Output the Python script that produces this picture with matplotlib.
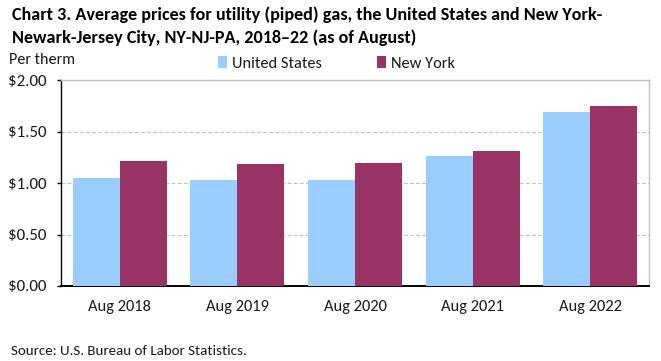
import matplotlib
matplotlib.use("Agg")
import matplotlib.pyplot as plt
import numpy as np

categories = ["Aug 2018", "Aug 2019", "Aug 2020", "Aug 2021", "Aug 2022"]
us_values = [1.05, 1.03, 1.03, 1.265, 1.695]
ny_values = [1.215, 1.187, 1.196, 1.313, 1.751]
yticks = [0.0, 0.5, 1.0, 1.5, 2.0]
ytick_labels = ["$0.00", "$0.50", "$1.00", "$1.50", "$2.00"]
series_names = ["United States", "New York"]
title_lines = ["Chart 3. Average prices for utility (piped) gas, the United States and New York-",
               "Newark-Jersey City, NY-NJ-PA, 2018\u201322 (as of August)"]
y_unit = "Per therm"
source = "Source: U.S. Bureau of Labor Statistics."

US_COLOR = "#99CCFF"
NY_COLOR = "#993366"
TEXT = "#1a1a1a"

plt.rcParams["font.family"] = ["Carlito", "DejaVu Sans"]

W, H = 661, 361
fig = plt.figure(figsize=(W / 100, H / 100), dpi=100)
renderer = fig.canvas.get_renderer()


def fit(t, target_px):
    """Scale a text's font size so its rendered width matches target_px."""
    for _ in range(2):
        w = t.get_window_extent(renderer).width
        t.set_fontsize(t.get_fontsize() * target_px / w)


def fy(px):
    return 1 - px / H


ax = fig.add_axes([61 / W, fy(286), (649 - 61) / W, (286 - 80.3) / H])

x = np.arange(len(categories))
bw = 0.4
ax.bar(x - bw / 2, us_values, bw, color=US_COLOR, label=series_names[0], zorder=3)
ax.bar(x + bw / 2, ny_values, bw, color=NY_COLOR, label=series_names[1], zorder=3)

ax.set_xlim(-0.5, len(categories) - 0.5)
ax.set_ylim(0, 2.0)

# measure font sizes for tick labels
probe = fig.text(0, 0, "Aug 2018")
fit(probe, 63)
xfs = probe.get_fontsize()
probe.set_text("$2.00")
probe.set_fontsize(12)
fit(probe, 39)
yfs = probe.get_fontsize()
probe.set_text(series_names[0])
probe.set_fontsize(12)
fit(probe, 90)
lfs = probe.get_fontsize()
probe.remove()

ax.set_yticks(yticks)
ax.set_yticklabels(ytick_labels, fontsize=yfs, color=TEXT)
ax.set_xticks(x)
ax.set_xticklabels(categories, fontsize=xfs, color=TEXT)
ax.tick_params(axis="x", length=0, pad=10)
ax.tick_params(axis="y", length=3, width=1, direction="out", pad=7.2, color="black")

ax.yaxis.grid(True, linestyle=(0, (3.5, 2)), color="#C0C0C0", linewidth=0.8, zorder=0)
ax.set_axisbelow(True)
for s in ["top", "right"]:
    ax.spines[s].set_color("#BFBFBF")
    ax.spines[s].set_linewidth(1)
ax.spines["left"].set_color("black")
ax.spines["left"].set_linewidth(1)
ax.spines["bottom"].set_color("black")
ax.spines["bottom"].set_linewidth(1.4)

t1 = fig.text(12 / W, fy(20), title_lines[0], fontsize=13, fontweight="bold",
              va="baseline", ha="left", color="black")
fit(t1, 592)
t2 = fig.text(12 / W, fy(43), title_lines[1], fontsize=t1.get_fontsize(), fontweight="bold",
              va="baseline", ha="left", color="black")
t3 = fig.text(9 / W, fy(64), y_unit, fontsize=12, va="baseline", ha="left", color=TEXT)
fit(t3, 66)
t4 = fig.text(11 / W, fy(355), source, fontsize=11, va="baseline", ha="left", color=TEXT)
fit(t4, 236)

em = lfs * 100 / 72
leg = fig.legend(loc="center left", bbox_to_anchor=(218 / W, fy(63.5)), ncol=2, frameon=False,
                 fontsize=lfs, handlelength=9 / em, handleheight=0.75, handletextpad=5 / em,
                 columnspacing=55 / em, borderaxespad=0, borderpad=0)
for txt in leg.get_texts():
    txt.set_color(TEXT)

fig.savefig("out.png", dpi=100)
